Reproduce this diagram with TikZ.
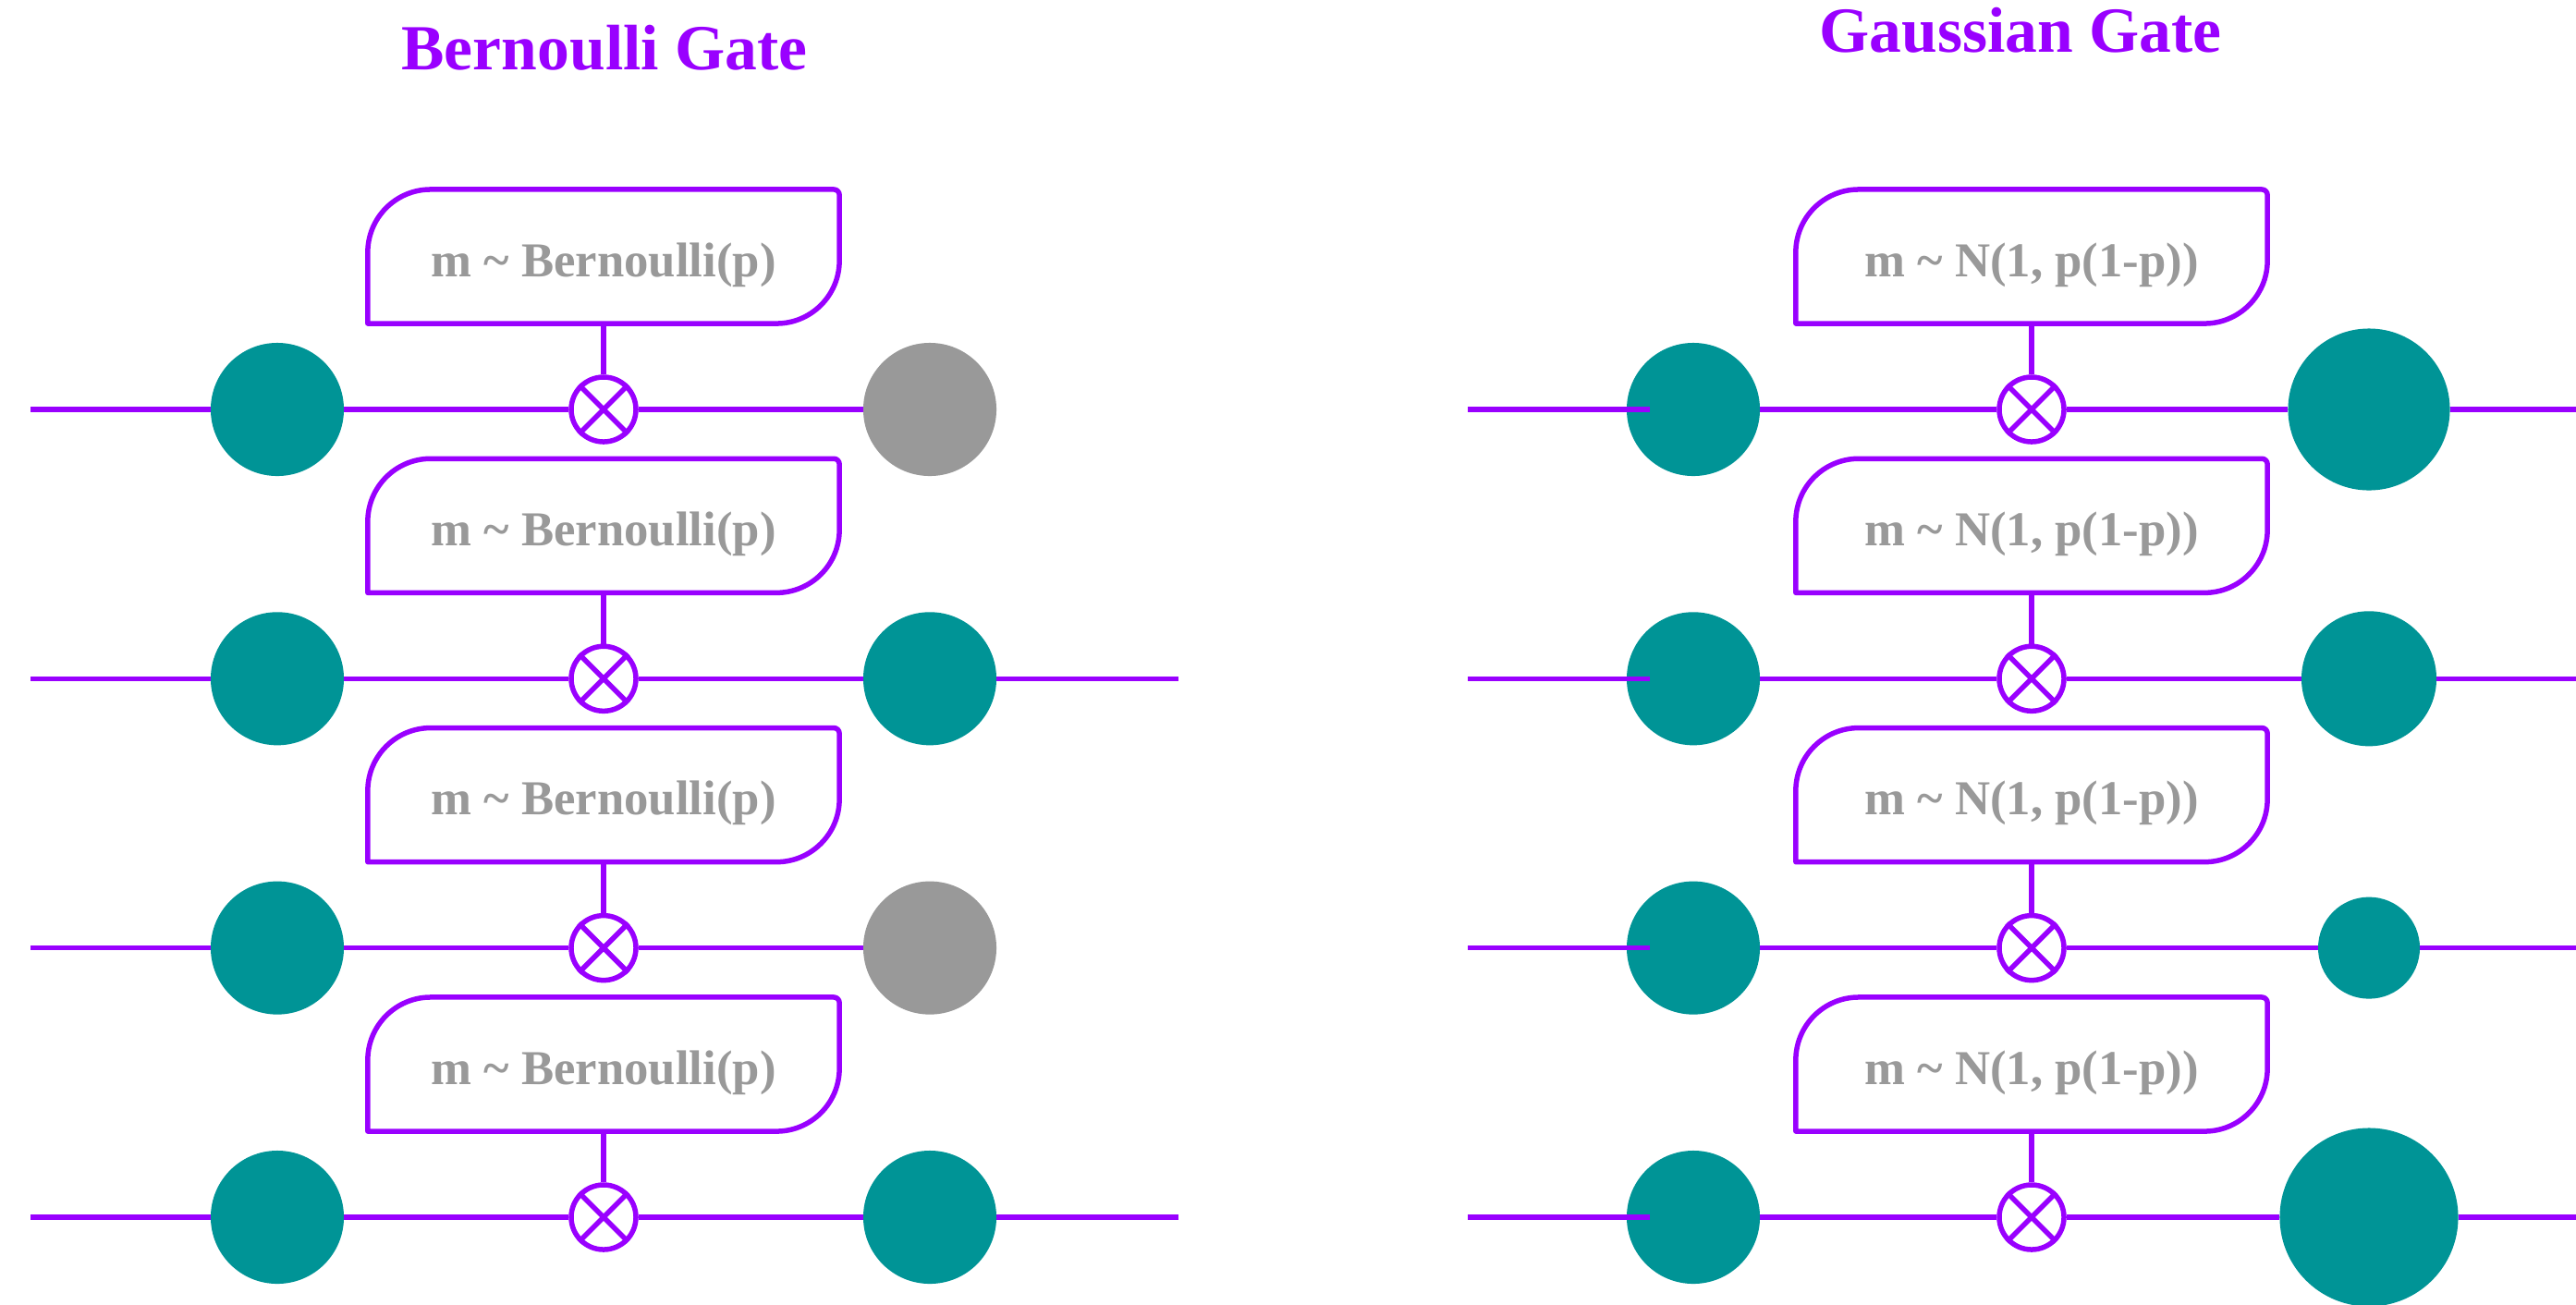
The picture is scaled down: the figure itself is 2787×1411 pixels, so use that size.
\documentclass[tikz,border=0pt]{standalone}
\usepackage{fontspec}
\setmainfont{Liberation Serif}
\definecolor{gatepurple}{HTML}{9900FF}
\definecolor{dotteal}{HTML}{009496}
\definecolor{dotgray}{HTML}{999999}
\definecolor{labelgray}{HTML}{999999}

% outline of a mask box: big rounding top-left and bottom-right,
% a small one top-right, square bottom-left
\newcommand\drawmask[1]{%
  \draw[wire, line join=round]
    (#1.south west)
    -- ([yshift=-0.68cm]#1.north west)
    .. controls ([yshift=-0.305cm]#1.north west) and ([xshift=0.305cm]#1.north west)
    .. ([xshift=0.68cm]#1.north west)
    -- ([xshift=-0.06cm]#1.north east)
    .. controls ([xshift=-0.027cm]#1.north east) and ([yshift=-0.027cm]#1.north east)
    .. ([yshift=-0.06cm]#1.north east)
    -- ([yshift=0.68cm]#1.south east)
    .. controls ([yshift=0.305cm]#1.south east) and ([xshift=-0.305cm]#1.south east)
    .. ([xshift=-0.68cm]#1.south east)
    -- cycle;}

\begin{document}
\begin{tikzpicture}[x=0.01cm, y=-0.01cm,
  wire/.style={draw=gatepurple, line width=0.055cm},
  gatedot/.style={circle, inner sep=0pt, outer sep=0pt, minimum size=#1},
  keep/.style={gatedot=#1, fill=dotteal},
  drop/.style={gatedot=#1, fill=dotgray},
  mult/.style={circle, wire, fill=white, inner sep=0pt, minimum size=0.7cm},
  maskbox/.style={rectangle, inner sep=0pt, outer sep=0pt,
                  minimum width=5.1cm, minimum height=1.45cm},
  masklabel/.style={text=labelgray, font=\fontsize{15}{18}\selectfont\bfseries,
                    inner sep=0pt, anchor=base},
  heading/.style={text=gatepurple, font=\fontsize{19.8}{24}\selectfont\bfseries,
                  inner sep=0pt, anchor=base},
]
\useasboundingbox (0,0) rectangle (2787,1411);

% headings
\node[heading] (bTitle) at (654,75) {Bernoulli Gate};
\node[heading] (gTitle) at (2186,56) {Gaussian Gate};

% Bernoulli gate: units are either kept or dropped
\foreach \i/\y/\fate/\ext in {1/443/drop/0, 2/734.3/keep/1, 3/1025.6/drop/0, 4/1317/keep/1} {
  \coordinate (bS\i) at (33,\y);
  \node[keep=1.44cm] (bL\i) at (300,\y) {};
  \node[mult] (bG\i) at (653,\y) {};
  \node[\fate=1.44cm] (bR\i) at (1006,\y) {};
  \node[maskbox] (bB\i) at (653,{\y-165.5}) {};
  \node[masklabel] (bT\i) at (653,{\y-144}) {m \textasciitilde{} Bernoulli(p)};
  \draw[wire] (bS\i) -- (bL\i) -- (bG\i) -- (bR\i);
  \draw[wire] (bB\i.south) -- (bG\i);
  \drawmask{bB\i}
  \draw[wire] (bG\i.north west) -- (bG\i.south east)
              (bG\i.north east) -- (bG\i.south west);
  \ifnum\ext=1
    \coordinate (bE\i) at (1275,\y);
    \draw[wire] (bR\i) -- (bE\i);
  \fi
}

% Gaussian gate: every unit is rescaled
\foreach \i/\y/\sz in {1/443/1.75cm, 2/734.3/1.46cm, 3/1025.6/1.10cm, 4/1317/1.93cm} {
  \coordinate (gS\i) at (1588,\y);
  \node[keep=1.44cm] (gL\i) at (1832,\y) {};
  \coordinate (gT\i) at (1785,\y);
  \node[mult] (gG\i) at (2198,\y) {};
  \node[keep=\sz] (gR\i) at (2563,\y) {};
  \coordinate (gE\i) at (2787,\y);
  \node[maskbox] (gB\i) at (2198,{\y-165.5}) {};
  \node[masklabel] (gM\i) at (2198,{\y-144}) {m \textasciitilde{} N(1, p(1-p))};
  \draw[wire] (gS\i) -- (gT\i);
  \draw[wire] (gL\i) -- (gG\i) -- (gR\i) -- (gE\i);
  \draw[wire] (gB\i.south) -- (gG\i);
  \drawmask{gB\i}
  \draw[wire] (gG\i.north west) -- (gG\i.south east)
              (gG\i.north east) -- (gG\i.south west);
}
\end{tikzpicture}
\end{document}
